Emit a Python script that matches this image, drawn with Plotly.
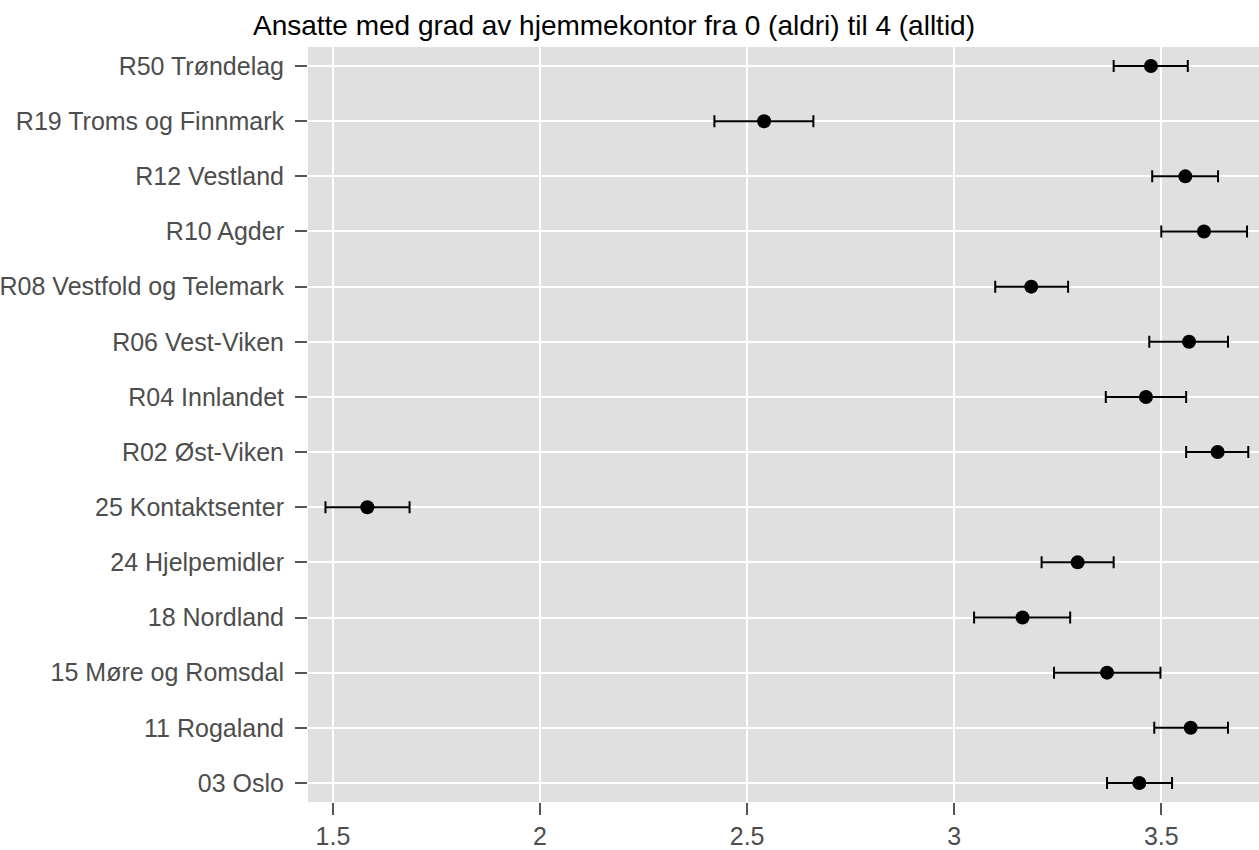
import plotly.graph_objects as go

# Enheter, ovenfra og ned
units = [
    "R50 Trøndelag",
    "R19 Troms og Finnmark",
    "R12 Vestland",
    "R10 Agder",
    "R08 Vestfold og Telemark",
    "R06 Vest-Viken",
    "R04 Innlandet",
    "R02 Øst-Viken",
    "25 Kontaktsenter",
    "24 Hjelpemidler",
    "18 Nordland",
    "15 Møre og Romsdal",
    "11 Rogaland",
    "03 Oslo",
]
mean = [3.475, 2.541, 3.558, 3.603, 3.186, 3.567, 3.463, 3.636,
        1.583, 3.298, 3.165, 3.369, 3.571, 3.447]
lower = [3.385, 2.421, 3.478, 3.500, 3.099, 3.471, 3.366, 3.560,
         1.482, 3.211, 3.048, 3.241, 3.483, 3.369]
upper = [3.564, 2.660, 3.637, 3.707, 3.275, 3.661, 3.560, 3.710,
         1.685, 3.385, 3.280, 3.498, 3.661, 3.526]

x_ticks = [1.5, 2, 2.5, 3, 3.5]
x_ticktext = ["1.5", "2", "2.5", "3", "3.5"]

err_plus = [u - m for u, m in zip(upper, mean)]
err_minus = [m - l for m, l in zip(mean, lower)]

label_font = dict(family="Liberation Sans, Arial, sans-serif", size=25, color="#4d4d4d")

fig = go.Figure(
    go.Scatter(
        x=mean,
        y=units,
        mode="markers",
        marker=dict(color="black", size=14),
        error_x=dict(
            type="data",
            symmetric=False,
            array=err_plus,
            arrayminus=err_minus,
            color="black",
            thickness=2,
            width=6,
        ),
        showlegend=False,
    )
)

fig.update_layout(
    width=1259,
    height=850,
    margin=dict(l=305, r=0, t=47, b=47),
    paper_bgcolor="white",
    plot_bgcolor="#e0e0e0",
    title=dict(
        text="Ansatte med grad av hjemmekontor fra 0 (aldri) til 4 (alltid)",
        font=dict(family="Liberation Sans, Arial, sans-serif", size=28, color="black"),
        x=614 / 1259,
        xref="container",
        xanchor="center",
        y=1 - 25 / 850,
        yref="container",
        yanchor="middle",
    ),
    xaxis=dict(
        range=[1.4398, 3.7359],
        tickvals=x_ticks,
        ticktext=x_ticktext,
        showgrid=True,
        gridcolor="white",
        gridwidth=2,
        zeroline=False,
        showline=False,
        ticks="outside",
        ticklen=12,
        tickwidth=2,
        tickcolor="#555555",
        tickfont=label_font,
    ),
    yaxis=dict(
        categoryorder="array",
        categoryarray=units[::-1],
        range=[-0.345, 13.345],
        showgrid=True,
        gridcolor="white",
        gridwidth=2,
        zeroline=False,
        showline=False,
        ticks="outside",
        ticklen=12,
        tickwidth=2,
        tickcolor="#555555",
        tickfont=label_font,
        ticklabelstandoff=6,
    ),
)

fig.write_html("out.html")
